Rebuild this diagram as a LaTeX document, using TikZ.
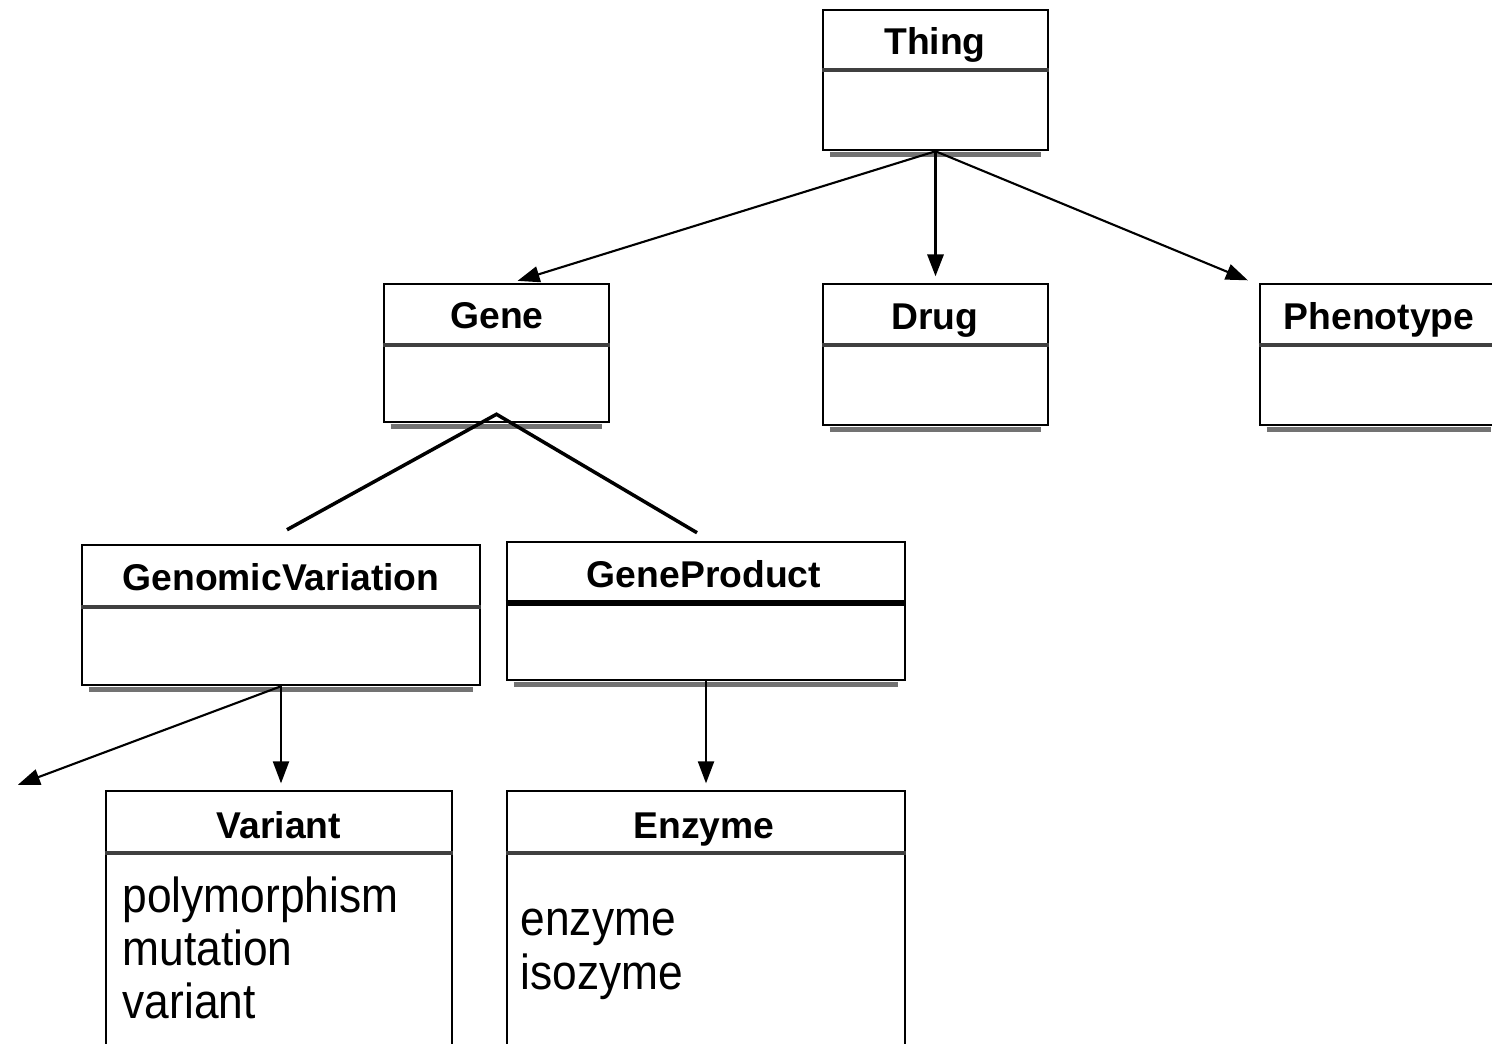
\documentclass[tikz,border=0pt]{standalone}
\usepackage{fontspec}
\setmainfont{Liberation Sans}
\newfontfamily\bodyfont[FakeStretch=0.9]{Liberation Sans}
\usetikzlibrary{arrows.meta}

\tikzset{
  classbox/.style={draw, line width=.7pt, fill=white, inner sep=0pt},
  classtitle/.style={font=\fontsize{10.6}{12}\selectfont\bfseries, inner sep=0pt, anchor=base},
  attr/.style={font=\bodyfont\fontsize{14}{16}\selectfont, inner sep=0pt, anchor=base west},
  divider/.style={line width=.9pt, black!75},
  shadowline/.style={line width=1.4pt, black!55},
  isa/.style={line width=.6pt, -{Triangle[length=.22cm, width=.16cm]}, shorten >=3\pgflinewidth},
  partof/.style={line width=1pt}
}

\begin{document}
\begin{tikzpicture}[x=0.01cm, y=-0.01cm]
  \useasboundingbox (0,0) rectangle (1492,1043);

  % class boxes
  \node[classbox, minimum width=2.25cm, minimum height=1.40cm] (thing) at (935.5,80) {};
  \node[classbox, minimum width=2.25cm, minimum height=1.38cm] (gene) at (496.5,353) {};
  \node[classbox, minimum width=2.25cm, minimum height=1.41cm] (drug) at (935.5,354.5) {};
  \node[classbox, minimum width=2.38cm, minimum height=1.41cm] (phenotype) at (1379,354.5) {};
  \node[classbox, minimum width=3.98cm, minimum height=1.40cm] (gv) at (281,615) {};
  \node[classbox, minimum width=3.98cm, minimum height=1.38cm] (gp) at (706,611) {};
  \node[classbox, minimum width=3.46cm, minimum height=2.60cm] (variant) at (279,921) {};
  \node[classbox, minimum width=3.98cm, minimum height=2.60cm] (enzyme) at (706,921) {};

  % shadows under the boxes
  \foreach \n in {thing,gene,drug,phenotype,gv,gp}
    \draw[shadowline] ([shift={(8,3.5)}]\n.south west) -- ([shift={(-8,3.5)}]\n.south east);

  % header dividers
  \foreach \n/\y in {thing/70,gene/345,drug/345,phenotype/345,gv/607,variant/853,enzyme/853}
    \draw[divider] (\n.west |- 0,\y) -- (\n.east |- 0,\y);
  \draw[line width=1.6pt] (gp.west |- 0,603) -- (gp.east |- 0,603);

  % titles
  \node[classtitle] (thingtitle) at (935,55) {Thing};
  \node[classtitle] (genetitle) at (497,328) {Gene};
  \node[classtitle] (drugtitle) at (935,329) {Drug};
  \node[classtitle] (phenotypetitle) at (1379,329) {Phenotype};
  \node[classtitle] (gvtitle) at (281,590) {GenomicVariation};
  \node[classtitle] (gptitle) at (704,587) {GeneProduct};
  \node[classtitle] (varianttitle) at (279,838) {Variant};
  \node[classtitle] (enzymetitle) at (704,838) {Enzyme};

  % attributes
  \node[attr] (poly) at (122,912) {polymorphism};
  \node[attr] (mut) at (122,965) {mutation};
  \node[attr] (var) at (122,1018) {variant};
  \node[attr] (enz) at (520,935) {enzyme};
  \node[attr] (iso) at (520,989) {isozyme};

  % connectors
  \coordinate (offleft) at (12,787);
  \draw[isa] (thing.south) -- ([xshift=.15cm]gene.north);
  \draw[isa, line width=.9pt] (thing.south) -- (drug.north);
  \draw[isa] (thing.south) -- ([xshift=-.05cm]phenotype.north west);
  \draw[partof] ([shift={(6,-14)}]gv.north) -- ([yshift=.09cm]gene.south)
                -- ([shift={(-9,-8)}]gp.north);
  \draw[isa] (gv.south) -- (offleft);
  \draw[isa] (gv.south) -- (gv.south |- variant.north);
  \draw[isa] (gp.south) -- (gp.south |- enzyme.north);
\end{tikzpicture}
\end{document}
